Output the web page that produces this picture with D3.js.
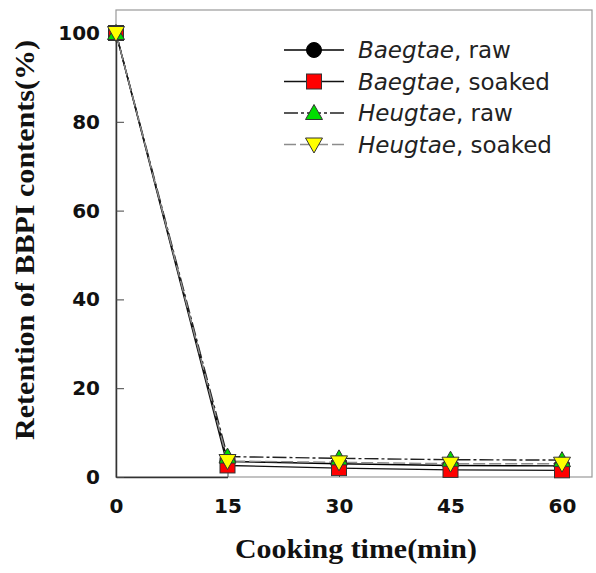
<!DOCTYPE html>
<html>
<head>
<meta charset="utf-8">
<script src="https://cdn.jsdelivr.net/npm/d3@7/dist/d3.min.js"></script>
<style>
  body { margin: 0; background: #fff; }
  svg { display: block; }
</style>
</head>
<body>
<svg id="chart" width="596" height="573"></svg>
<script>
// Cooking times (min)
const times = [0, 15, 30, 45, 60];

// Retention of BBPI contents (%)
const baegtaeRaw    = [100, 3.5, 3.0, 2.6, 2.5];
const baegtaeSoaked = [100, 2.6, 2.0, 1.6, 1.5];
const heugtaeRaw    = [100, 4.6, 4.2, 3.9, 3.8];
const heugtaeSoaked = [100, 3.6, 3.3, 3.0, 3.0];

const xTicks = [0, 15, 30, 45, 60];
const yTicks = [0, 20, 40, 60, 80, 100];

const seriesNames = ["Baegtae", "Baegtae", "Heugtae", "Heugtae"];
const seriesStates = ["raw", "soaked", "raw", "soaked"];

const series = [
  { name: seriesNames[0], state: seriesStates[0], values: baegtaeRaw,    shape: "circle",   fill: "#000000", line: "#000000", dash: null },
  { name: seriesNames[1], state: seriesStates[1], values: baegtaeSoaked, shape: "square",   fill: "#ff0000", line: "#111111", dash: null },
  { name: seriesNames[2], state: seriesStates[2], values: heugtaeRaw,    shape: "triUp",    fill: "#00dd00", line: "#222222", dash: "14,3,3,3" },
  { name: seriesNames[3], state: seriesStates[3], values: heugtaeSoaked, shape: "triDown",  fill: "#ffff00", line: "#8c8c8c", dash: "12,4" }
];

const svg = d3.select("#chart");
const plotLeft = 116, plotRight = 592, plotTop = 10, plotBottom = 477;

const x = d3.scaleLinear().domain([0, 15]).range([plotLeft, 227.5]);
const y = d3.scaleLinear().domain([0, 100]).range([plotBottom, 33]);

// Plot frame
svg.append("rect")
  .attr("x", plotLeft).attr("y", plotTop)
  .attr("width", plotRight - plotLeft).attr("height", plotBottom - plotTop)
  .attr("fill", "none").attr("stroke", "#999").attr("stroke-width", 1.2);

// Axes with inward ticks
const xAxis = svg.append("g").attr("transform", `translate(0,${plotBottom})`)
  .call(d3.axisBottom(x).tickValues(xTicks).tickSizeInner(-8).tickSizeOuter(0).tickPadding(29));
const yAxis = svg.append("g").attr("transform", `translate(${plotLeft},0)`)
  .call(d3.axisLeft(y).tickValues(yTicks).tickSizeInner(-8).tickSizeOuter(0).tickPadding(16));

[xAxis, yAxis].forEach(g => {
  g.select(".domain").attr("stroke", "#333").attr("stroke-width", 1.5);
  g.selectAll(".tick line").attr("stroke", "#444").attr("stroke-width", 1);
  g.selectAll(".tick text")
    .attr("font-family", "DejaVu Sans, sans-serif")
    .attr("font-weight", "bold").attr("font-size", 20).attr("fill", "#111");
});
xAxis.selectAll(".tick text").attr("dy", "0.35em");

// Axis titles
svg.append("text")
  .attr("x", 356).attr("y", 558)
  .attr("text-anchor", "middle")
  .attr("font-family", "Liberation Serif, Times New Roman, serif")
  .attr("font-weight", "bold").attr("font-size", 27).attr("fill", "#111")
  .attr("textLength", 242).attr("lengthAdjust", "spacingAndGlyphs")
  .text("Cooking time(min)");

svg.append("text")
  .attr("transform", "translate(34,240) rotate(-90)")
  .attr("text-anchor", "middle")
  .attr("font-family", "Liberation Serif, Times New Roman, serif")
  .attr("font-weight", "bold").attr("font-size", 27).attr("fill", "#111")
  .attr("textLength", 400).attr("lengthAdjust", "spacingAndGlyphs")
  .text("Retention of BBPI contents(%)");

// Marker drawing
function drawMarker(g, shape, fill, cx, cy) {
  const s = 7.5;
  if (shape === "circle") {
    g.append("circle").attr("cx", cx).attr("cy", cy).attr("r", 7.5)
      .attr("fill", fill).attr("stroke", "#000").attr("stroke-width", 1);
  } else if (shape === "square") {
    g.append("rect").attr("x", cx - s).attr("y", cy - s).attr("width", 2 * s).attr("height", 2 * s)
      .attr("fill", fill).attr("stroke", "#333").attr("stroke-width", 1);
  } else if (shape === "triUp") {
    g.append("path").attr("d", `M${cx},${cy - 8.5}L${cx + 8.5},${cy + 6.5}L${cx - 8.5},${cy + 6.5}Z`)
      .attr("fill", fill).attr("stroke", "#333").attr("stroke-width", 1);
  } else {
    g.append("path").attr("d", `M${cx - 8.5},${cy - 6.5}L${cx + 8.5},${cy - 6.5}L${cx},${cy + 8.5}Z`)
      .attr("fill", fill).attr("stroke", "#333").attr("stroke-width", 1);
  }
}

// Lines
const line = d3.line().x((d, i) => x(times[i])).y(d => y(d));
series.forEach(s => {
  svg.append("path").datum(s.values)
    .attr("d", line)
    .attr("fill", "none")
    .attr("stroke", s.line).attr("stroke-width", 1.4)
    .attr("stroke-dasharray", s.dash);
});

// Markers
series.forEach(s => {
  const g = svg.append("g");
  s.values.forEach((v, i) => drawMarker(g, s.shape, s.fill, x(times[i]), y(v)));
});

// Legend
const legend = svg.append("g");
series.forEach((s, i) => {
  const ly = 50 + i * 31.5;
  legend.append("line").attr("x1", 284).attr("x2", 344).attr("y1", ly).attr("y2", ly)
    .attr("stroke", s.line).attr("stroke-width", 1.4).attr("stroke-dasharray", s.dash);
  drawMarker(legend, s.shape, s.fill, 314, ly);
  const t = legend.append("text").attr("x", 358).attr("y", ly + 8)
    .attr("font-family", "DejaVu Sans, sans-serif")
    .attr("font-size", 23).attr("fill", "#222");
  t.append("tspan").attr("font-style", "italic").text(s.name);
  t.append("tspan").text(", " + s.state);
});
</script>
</body>
</html>
